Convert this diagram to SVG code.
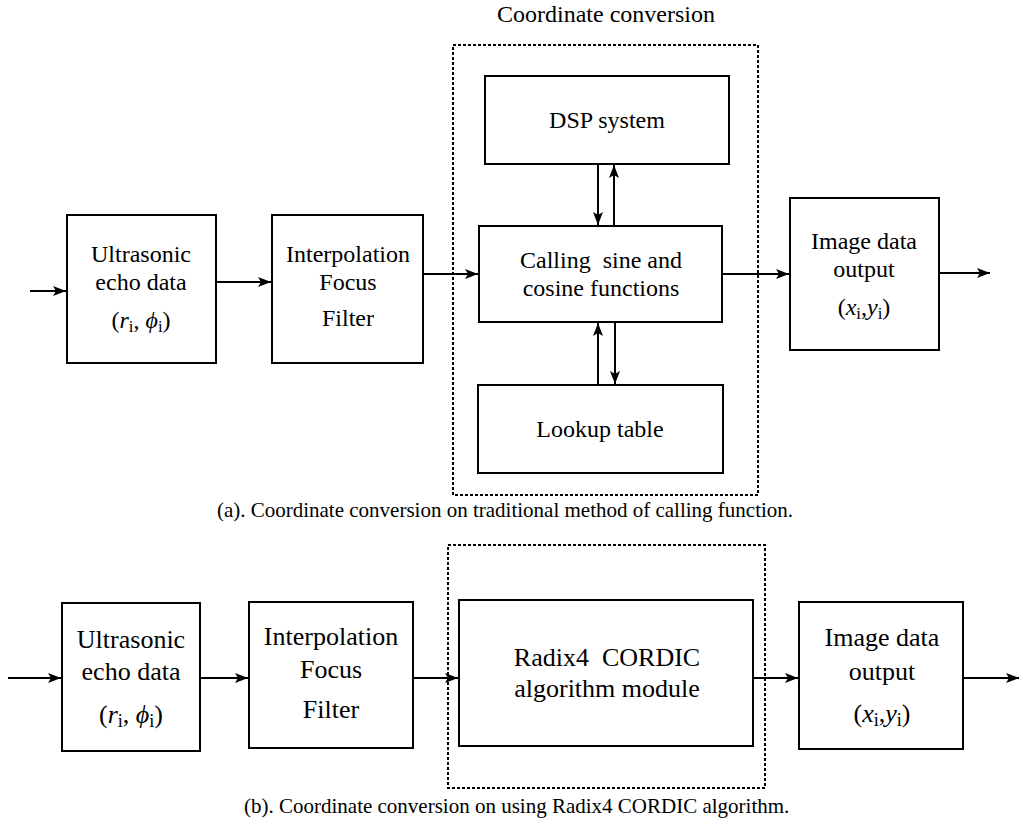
<svg xmlns="http://www.w3.org/2000/svg" width="1019" height="820" viewBox="0 0 1019 820" font-family="'Liberation Serif', 'Times New Roman', Tinos, 'DejaVu Serif', 'Noto Serif', serif">
<style>
.box{fill:#fff;stroke:#000;stroke-width:2}
.dash{fill:none;stroke:#000;stroke-width:2;stroke-dasharray:3 2}
.t{font-family:'Liberation Serif','Times New Roman',Tinos,'DejaVu Serif','Noto Serif',serif;fill:#000;text-anchor:middle}
.ta{font-size:24px}
.tb{font-size:26px}
.cap{font-family:'Liberation Serif','Times New Roman',Tinos,'DejaVu Serif','Noto Serif',serif;font-size:21px;fill:#000}
.ln{fill:none;stroke:#000;stroke-width:2;marker-end:url(#ah)}
.sub{font-size:70%;font-style:normal}
</style>
<defs>
<marker id="ah" markerUnits="userSpaceOnUse" markerWidth="14" markerHeight="10" refX="13" refY="5" orient="auto">
<path d="M0,0 L13,5 L0,10 L3,5 Z" fill="#000"/>
</marker>
</defs>
<rect width="1019" height="820" fill="#fff"/>

<text class="t ta" x="606" y="22">Coordinate conversion</text>
<rect class="dash" x="453" y="45" width="305" height="450"/>

<g id="a_ultrasonic">
<rect class="box" x="67" y="215" width="149" height="148"/>
<text class="t ta" x="141" y="262">Ultrasonic</text>
<text class="t ta" x="141" y="290">echo data</text>
<text class="t ta" x="141" y="328">(<tspan font-style="italic">r</tspan><tspan class="sub" dy="4">i</tspan><tspan dy="-4">, </tspan><tspan font-style="italic">ϕ</tspan><tspan class="sub" dy="4">i</tspan><tspan dy="-4">)</tspan></text>
</g>
<g id="a_interp">
<rect class="box" x="272" y="215" width="151" height="148"/>
<text class="t ta" x="348" y="262">Interpolation</text>
<text class="t ta" x="348" y="290">Focus</text>
<text class="t ta" x="348" y="326">Filter</text>
</g>
<g id="a_dsp">
<rect class="box" x="485" y="76" width="244" height="88"/>
<text class="t ta" x="607" y="128">DSP system</text>
</g>
<g id="a_calling">
<rect class="box" x="479" y="226" width="243" height="96"/>
<text class="t ta" x="601" y="268" xml:space="preserve">Calling  sine and</text>
<text class="t ta" x="601" y="296">cosine functions</text>
</g>
<g id="a_lookup">
<rect class="box" x="478" y="385" width="245" height="88"/>
<text class="t ta" x="600" y="437">Lookup table</text>
</g>
<g id="a_image">
<rect class="box" x="790" y="198" width="149" height="152"/>
<text class="t ta" x="864" y="249">Image data</text>
<text class="t ta" x="864" y="277">output</text>
<text class="t ta" x="864" y="315">(<tspan font-style="italic">x</tspan><tspan class="sub" dy="4">i</tspan><tspan dy="-4">,</tspan><tspan font-style="italic">y</tspan><tspan class="sub" dy="4">i</tspan><tspan dy="-4">)</tspan></text>
</g>
<text class="cap" x="505" y="517" text-anchor="middle">(a). Coordinate conversion on traditional method of calling function.</text>

<rect class="dash" x="448" y="545" width="317" height="243"/>
<g id="b_ultrasonic">
<rect class="box" x="62" y="603" width="138" height="148"/>
<text class="t tb" x="131" y="648">Ultrasonic</text>
<text class="t tb" x="131" y="680">echo data</text>
<text class="t tb" x="131" y="723">(<tspan font-style="italic">r</tspan><tspan class="sub" dy="4">i</tspan><tspan dy="-4">, </tspan><tspan font-style="italic">ϕ</tspan><tspan class="sub" dy="4">i</tspan><tspan dy="-4">)</tspan></text>
</g>
<g id="b_interp">
<rect class="box" x="249" y="602" width="164" height="146"/>
<text class="t tb" x="331" y="645">Interpolation</text>
<text class="t tb" x="331" y="678">Focus</text>
<text class="t tb" x="331" y="718">Filter</text>
</g>
<g id="b_radix">
<rect class="box" x="459" y="600" width="294" height="146"/>
<text class="t tb" x="607" y="666" xml:space="preserve">Radix4  CORDIC</text>
<text class="t tb" x="607" y="697">algorithm module</text>
</g>
<g id="b_image">
<rect class="box" x="799" y="602" width="164" height="147"/>
<text class="t tb" x="882" y="646">Image data</text>
<text class="t tb" x="882" y="680">output</text>
<text class="t tb" x="882" y="722">(<tspan font-style="italic">x</tspan><tspan class="sub" dy="4">i</tspan><tspan dy="-4">,</tspan><tspan font-style="italic">y</tspan><tspan class="sub" dy="4">i</tspan><tspan dy="-4">)</tspan></text>
</g>
<text class="cap" x="244" y="813">(b). Coordinate conversion on using Radix4 CORDIC algorithm.</text>

<g id="connectors">
<path class="ln" d="M30,291 H66"/>
<path class="ln" d="M216,282 H271"/>
<path class="ln" d="M423,274 H478"/>
<path class="ln" d="M722,274 H789"/>
<path class="ln" d="M939,273 H990"/>
<path class="ln" d="M598,164 V225"/>
<path class="ln" d="M614,226 V165"/>
<path class="ln" d="M598,385 V323"/>
<path class="ln" d="M615,322 V384"/>
<path class="ln" d="M8,678 H61"/>
<path class="ln" d="M200,678 H248"/>
<path class="ln" d="M413,678 H458"/>
<path class="ln" d="M753,678 H798"/>
<path class="ln" d="M963,678 H1019"/>
</g>
</svg>
